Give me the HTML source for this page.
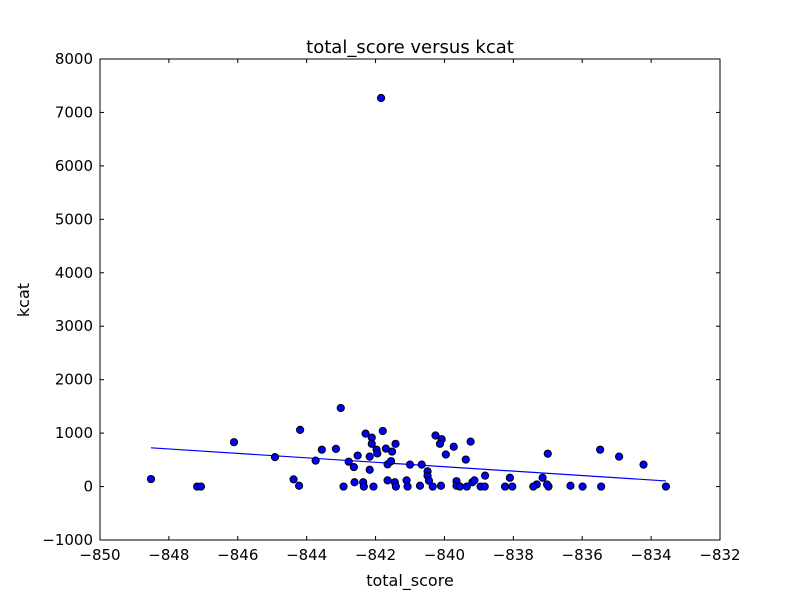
<!DOCTYPE html>
<html><head><meta charset="utf-8"><style>
body{margin:0;background:#fff;}
svg text{font-family:"DejaVu Sans","Liberation Sans",sans-serif;fill:#000;}
</style></head><body>
<svg id="chart" width="800" height="600" xmlns="http://www.w3.org/2000/svg">
<rect width="800" height="600" fill="#fff"/>
<g id="marks"></g>
<rect x="100" y="59" width="620" height="481" fill="none" stroke="#000" stroke-width="1"/>
<g id="ticks"></g>
<text x="410" y="53" font-size="18" text-anchor="middle">total_score versus kcat</text>
<text x="410" y="586" font-size="16" text-anchor="middle">total_score</text>
<text x="29" y="300" font-size="16" text-anchor="middle" transform="rotate(-90 29 300)">kcat</text>
</svg>
<script>
const xs = [-844.19,-843.01,-844.38,-844.22,-843.74,-843.56,-843.15,-842.93,-842.78,-842.63,-842.52,-842.61,-842.36,-842.34,-842.29,-842.11,-842.11,-841.97,-841.95,-842.17,-842.17,-842.06,-841.79,-841.70,-841.52,-841.42,-841.65,-841.55,-841.65,-841.44,-841.41,-841.10,-841.07,-841.00,-840.71,-840.66,-840.49,-840.49,-840.45,-840.34,-840.26,-840.08,-840.13,-840.10,-839.96,-839.73,-839.38,-839.24,-839.65,-839.65,-839.55,-839.35,-839.19,-839.13,-838.95,-838.82,-838.83,-838.24,-838.10,-838.03,-837.00,-835.48,-834.93,-834.22,-833.57,-837.15,-837.32,-837.42,-836.98,-837.02,-836.34,-835.99,-835.45,-848.52,-847.18,-847.07,-846.11,-844.92,-841.84];
const ys = [1060,1470,135,15,485,690,705,0,465,365,580,80,80,0,990,915,800,690,620,560,315,0,1040,710,655,800,415,475,115,80,0,115,0,410,15,410,285,200,110,0,955,885,800,15,600,745,505,840,100,15,0,0,80,115,0,205,0,0,165,0,615,690,560,410,0,165,40,0,0,40,15,0,0,140,0,0,830,550,7270];
const fitX = [-848.52,-833.57];
const fitY = [725,105];
const xTicks = [-850,-848,-846,-844,-842,-840,-838,-836,-834,-832];
const yTicks = [-1000,0,1000,2000,3000,4000,5000,6000,7000,8000];
const NS="http://www.w3.org/2000/svg";
const L=100,R=720,T=59,B=540,xMin=-850,xMax=-832,yMin=-1000,yMax=8000;
function sx(v){return L+(v-xMin)/(xMax-xMin)*(R-L);}
function sy(v){return B-(v-yMin)/(yMax-yMin)*(B-T);}
function mk(t,a){const e=document.createElementNS(NS,t);for(const k in a)e.setAttribute(k,a[k]);return e;}
const marks=document.getElementById('marks');
const ln=mk('line',{x1:sx(fitX[0]),y1:sy(fitY[0]),x2:sx(fitX[1]),y2:sy(fitY[1]),stroke:'#0000ff','stroke-width':1.2});


marks.appendChild(ln);
xs.forEach((x,i)=>{
 const c=mk('circle',{cx:sx(x),cy:sy(ys[i]),r:3.6,fill:'#0000ff',stroke:'#000','stroke-width':1});
 
 
 marks.appendChild(c);
});
const tk=document.getElementById('ticks');
function fmt(v){return v<0?'\u2212'+Math.abs(v):''+v;}
xTicks.forEach(v=>{
 const x=sx(v);
 tk.appendChild(mk('line',{x1:x,y1:B,x2:x,y2:B-4,stroke:'#000'}));
 tk.appendChild(mk('line',{x1:x,y1:T,x2:x,y2:T+4,stroke:'#000'}));
 const t=mk('text',{x:x,y:B+20,'font-size':15,'text-anchor':'middle'});
 t.textContent=fmt(v);
 
 
 tk.appendChild(t);
});
yTicks.forEach(v=>{
 const y=sy(v);
 tk.appendChild(mk('line',{x1:L,y1:y,x2:L+4,y2:y,stroke:'#000'}));
 tk.appendChild(mk('line',{x1:R,y1:y,x2:R-4,y2:y,stroke:'#000'}));
 const t=mk('text',{x:L-7,y:y+5,'font-size':15,'text-anchor':'end'});
 t.textContent=fmt(v);
 
 
 tk.appendChild(t);
});
</script>
</body></html>
